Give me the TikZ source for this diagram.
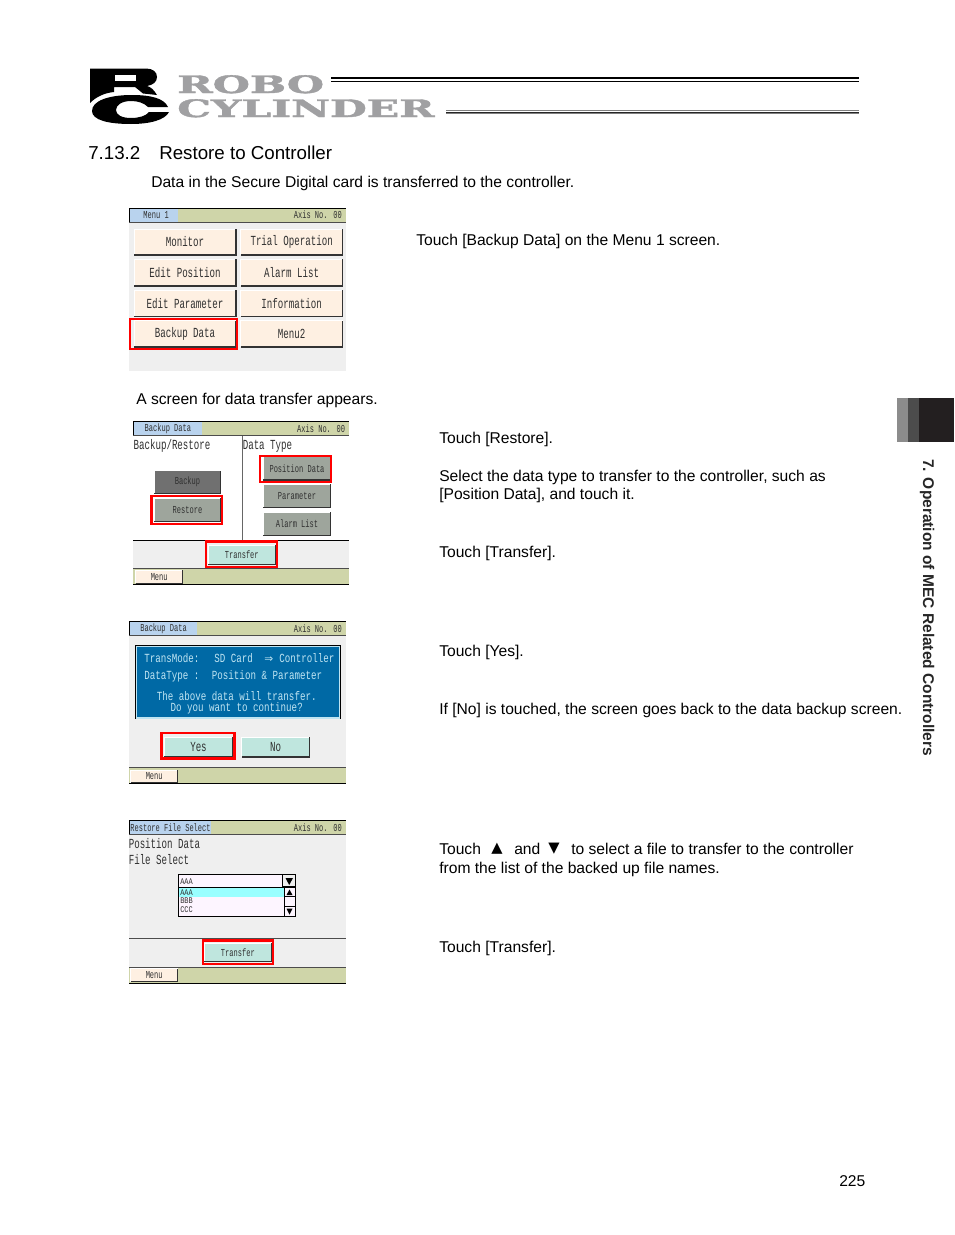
\documentclass[tikz,border=0pt]{standalone}
\usepackage{graphicx}
\usepackage{fontspec}
\setmainfont{Liberation Sans}
\newfontfamily\scrfont[FakeStretch=0.66]{Liberation Mono}
\newfontfamily\msgfont[FakeStretch=0.74]{Liberation Mono}
\newfontfamily\listfont[FakeStretch=0.8]{Liberation Mono}
\newfontfamily\symfont{DejaVu Sans}
\newfontfamily\logofont[FakeBold=1.6]{DejaVu Serif Bold}
\definecolor{olive}{HTML}{CFD5A9}
\definecolor{tabblue}{HTML}{B9D3EE}
\definecolor{scrbg}{HTML}{EFEFEF}
\definecolor{peach}{HTML}{FEF0E2}
\definecolor{btngray}{HTML}{9EA59C}
\definecolor{btndark}{HTML}{707070}
\definecolor{mint}{HTML}{BFE6DE}
\definecolor{msgblue}{HTML}{0069A5}
\definecolor{msgtext}{HTML}{BFE4F2}
\definecolor{listbg}{HTML}{FDF5FF}
\definecolor{listsel}{HTML}{99FFFF}
\definecolor{logogray}{HTML}{A0A0A2}
\definecolor{tabink}{HTML}{231F20}
\definecolor{scrink}{HTML}{303030}
\tikzset{
  body/.style={anchor=base west,inner sep=0pt,font=\fontsize{11.72pt}{14pt}\selectfont,text=black},
  big/.style={inner sep=0pt,font=\scrfont\fontsize{10.4pt}{11pt}\selectfont,text=scrink},
  small/.style={inner sep=0pt,font=\scrfont\fontsize{8pt}{9pt}\selectfont,text=scrink},
  msg/.style={inner sep=0pt,font=\msgfont\fontsize{9.3pt}{10pt}\selectfont,text=msgtext},
  listitem/.style={inner sep=0pt,anchor=base west,font=\listfont\fontsize{6.5pt}{7pt}\selectfont,text=scrink},
  redframe/.style={draw=red,line width=1.6pt},
  logotext/.style={anchor=base west,inner sep=0pt,text=logogray,font=\logofont\fontsize{18pt}{18pt}\selectfont},
}
% name x1 y1 x2 y2 fill textstyle text
\newcommand{\btn}[8]{%
  \fill[#6] (#2,#3) rectangle (#4,#5);
  \draw[white,line width=0.75pt] (#2,#5) -- (#2,#3) -- (#4,#3);
  \draw[black!80,line width=0.9pt] (#2,#5) -- (#4,#5) -- (#4,#3);
  \node[#7] (#1) at ({(#2+#4)/2},{(#3+#5)/2}) {#8};
}
% name x1 x2 bluex y1 y2 title
\newcommand{\titlebar}[7]{%
  \fill[olive] (#2,#5) rectangle (#3,#6);
  \fill[tabblue] (#2,#5) rectangle (#4,#6);
  \draw[black,line width=0.75pt] (#2,#6) -- (#2,#5) -- (#3,#5);
  \draw[black!70,line width=0.75pt] (#2,#6) -- (#3,#6);
  \node[small,anchor=west] (#1t) at ({#2+(#4-#2-4.2*\titlelen)/2},{(#5+#6)/2}) {#7};
  \node[small,anchor=east] (#1a) at (#3-4,{(#5+#6)/2}) {Axis No. 00};
}
\begin{document}
\begin{tikzpicture}[x=0.75pt,y=-0.75pt]
\useasboundingbox (0,0) rectangle (954,1235);
\fill[white] (0,0) rectangle (954,1235);
% logo
\fill[black] (90,68.5) -- (146,68.5) .. controls (153,68.5) and (157,72) .. (157,77)
  .. controls (157,82) and (153,85) .. (147,86) .. controls (151,87) and (154,90) .. (157,95)
  -- (143,93.5) -- (135,87) -- (114,87) -- (114,92) .. controls (104,93) and (96,97) .. (90,103) -- cycle;
\fill[white] (115,75) rectangle (136,81);
\fill[black] (92,111) .. controls (92,101) and (108,95) .. (132,95)
  .. controls (150,95) and (164,98) .. (168,107) -- (148,107)
  .. controls (144,103) and (138,101) .. (131,101)
  .. controls (122,101) and (116,105) .. (116,110)
  .. controls (116,115) and (122,118) .. (131,118)
  .. controls (139,118) and (146,116) .. (149,112) -- (169,112)
  .. controls (165,120) and (150,124) .. (131,124)
  .. controls (108,124) and (92,120) .. (92,111) -- cycle;
\node[logotext] (logorobo) at (177,93) {\scalebox{1.78}[1]{ROBO}};
\node[logotext] (logocyl) at (177,117) {\scalebox{1.77}[1]{CYLINDER}};
\fill[black] (331,77.3) rectangle (859,79.3);
\fill[black] (331,80.5) rectangle (859,81.7);
\fill[black!50] (446,110.2) rectangle (859,111.2);
\fill[black!85] (446,112) rectangle (859,113.2);
\fill[black!50] (446,113.2) rectangle (859,114.4);
% headings
\node[body,font=\fontsize{14.05pt}{16pt}\selectfont] (sec) at (88,159) {7.13.2};
\node[body,font=\fontsize{14.05pt}{16pt}\selectfont] (sectitle) at (159,159) {Restore to Controller};
\node[body] (intro) at (151,187) {Data in the Secure Digital card is transferred to the controller.};
\node[body] (t1) at (416,245) {Touch [Backup Data] on the Menu 1 screen.};
\node[body] (t2) at (136,404) {A screen for data transfer appears.};
\node[body] (t3) at (439,443) {Touch [Restore].};
\node[body] (t4) at (439,481) {Select the data type to transfer to the controller, such as};
\node[body] (t5) at (439,499) {[Position Data], and touch it.};
\node[body] (t6) at (439,557) {Touch [Transfer].};
\node[body] (t7) at (439,656) {Touch [Yes].};
\node[body] (t8) at (439,714) {If [No] is touched, the screen goes back to the data backup screen.};
\node[body] (t9) at (439,854) {Touch};
\node[body,font=\symfont\fontsize{11pt}{12pt}\selectfont] (t9a) at (491,852) {▲};
\node[body] (t9b) at (514,854) {and};
\node[body,font=\symfont\fontsize{11pt}{12pt}\selectfont] (t9c) at (548,852) {▼};
\node[body] (t9d) at (571,854) {to select a file to transfer to the controller};
\node[body] (t10) at (439,873) {from the list of the backed up file names.};
\node[body] (t11) at (439,952) {Touch [Transfer].};
\node[body] (pageno) at (839,1186) {225};
% side tab
\fill[black!45] (897,398) rectangle (908,442);
\fill[black!70] (908,398) rectangle (919,442);
\fill[tabink] (919,398) rectangle (954,442);
\node[anchor=base west,inner sep=0pt,rotate=-90,text=black!85,font=\bfseries\fontsize{11.63pt}{13pt}\selectfont] (side) at (923,459) {7. Operation of MEC Related Controllers};
% screen 1
\fill[scrbg] (129.3,208) rectangle (346,371);
\def\titlelen{5}
\titlebar{sa}{129.3}{346}{178}{208}{222}{Menu 1}
\btn{a1}{134}{229}{236}{255}{peach}{big}{Monitor}
\btn{a2}{240.7}{229}{342.7}{255}{peach}{big}{Trial Operation}
\btn{a3}{134}{259.3}{236}{286}{peach}{big}{Edit Position}
\btn{a4}{240.7}{259.3}{342.7}{286}{peach}{big}{Alarm List}
\btn{a5}{134}{290}{236}{316.7}{peach}{big}{Edit Parameter}
\btn{a6}{240.7}{290}{342.7}{316.7}{peach}{big}{Information}
\btn{a7}{134}{320.7}{236}{347}{peach}{big}{Backup Data}
\btn{a8}{240.7}{320.7}{342.7}{347}{peach}{big}{Menu2}
\draw[redframe] (130,319) rectangle (236.8,348.6);
% screen 2
\fill[white] (133.3,436) rectangle (349.3,540);
\fill[scrbg] (133.3,540) rectangle (349.3,568.3);
\fill[olive] (133.3,568.3) rectangle (349.3,584.3);
\draw[black,line width=0.75pt] (133.3,584.3) -- (349.3,584.3);
\draw[black!70,line width=0.75pt] (133.3,568.3) -- (349.3,568.3);
\draw[black,line width=0.75pt] (133.3,540.3) -- (349.3,540.3);
\draw[black!60,line width=0.75pt] (242.3,436) -- (242.3,540);
\def\titlelen{11}
\titlebar{sb}{133.3}{349.3}{201.7}{421.7}{435.7}{Backup Data}
\node[big,anchor=base west] (bh1) at (133.3,449.5) {Backup/Restore};
\node[big,anchor=base west] (bh2) at (242.5,449.5) {Data Type};
\btn{b1}{154.3}{470.7}{220.7}{493.3}{btndark}{small}{Backup}
\btn{b2}{154.3}{498.3}{220.7}{521.7}{btngray}{small}{Restore}
\btn{b3}{263.3}{456.7}{330.7}{480}{btngray}{small}{Position Data}
\btn{b4}{263.3}{484.3}{330.7}{507.7}{btngray}{small}{Parameter}
\btn{b5}{263.3}{512.3}{330.7}{535.7}{btngray}{small}{Alarm List}
\btn{b6}{208.3}{545}{275.3}{564.3}{mint}{small}{Transfer}
\btn{b7}{135.7}{570}{182.7}{583.3}{peach}{small}{Menu}
\draw[redframe] (151.5,496) rectangle (221.6,523.6);
\draw[redframe] (260,455.8) rectangle (331,482);
\draw[redframe] (206.4,541.5) rectangle (276.6,567);
% screen 3
\fill[scrbg] (129,636) rectangle (346,767.7);
\fill[olive] (129,767.7) rectangle (346,783.3);
\draw[black,line width=0.75pt] (129,783.3) -- (346,783.3);
\draw[black!70,line width=0.75pt] (129,767.7) -- (346,767.7);
\def\titlelen{11}
\titlebar{sc}{129}{346}{197.3}{621.7}{635.7}{Backup Data}
\fill[black] (135,645) rectangle (340.7,719.3);
\fill[msgtext] (135.8,645.8) rectangle (339.9,718.5);
\fill[msgblue] (137,647) rectangle (338.7,717.3);
\node[msg,anchor=base west] (m1) at (144,662.5) {TransMode:};
\node[msg,anchor=base west] (m2) at (214,662.5) {SD Card};
\node[msg,anchor=base west,font=\symfont\fontsize{8pt}{9pt}\selectfont] (m3) at (264,662) {⇒};
\node[msg,anchor=base west] (m3b) at (279,662.5) {Controller};
\node[msg,anchor=base west] (m4) at (144,679) {DataType :};
\node[msg,anchor=base west] (m5) at (211.7,679) {Position \& Parameter};
\node[msg,anchor=base] (m6) at (236.7,700.5) {The above data will transfer.};
\node[msg,anchor=base] (m7) at (236.7,711.5) {Do you want to continue?};
\btn{c1}{164.3}{737}{232.7}{757}{mint}{big}{Yes}
\btn{c2}{241.7}{737}{309.3}{757}{mint}{big}{No}
\btn{c3}{130.7}{770}{177.7}{782.7}{peach}{small}{Menu}
\draw[redframe] (161.5,733.2) rectangle (234.5,758.5);
% screen 4
\fill[scrbg] (129,834.3) rectangle (346,967.7);
\fill[olive] (129,967.7) rectangle (346,983.3);
\draw[black,line width=0.75pt] (129,983.3) -- (346,983.3);
\draw[black!70,line width=0.75pt] (129,967.7) -- (346,967.7);
\draw[black!70,line width=0.75pt] (129,938.3) -- (346,938.3);
\def\titlelen{19}
\titlebar{sd}{129}{346}{211}{820.7}{834.3}{Restore File Select}
\node[big,anchor=base west] (d1) at (128.5,848.5) {Position Data};
\node[big,anchor=base west] (d2) at (128.5,864) {File Select};
\fill[listbg] (178.3,874.3) rectangle (295.7,916.7);
\fill[listsel] (178.3,887.7) rectangle (284.3,896.7);
\draw[black,line width=0.75pt] (178.3,887.3) -- (295.7,887.3);
\draw[black,line width=0.9pt] (178.3,874.3) rectangle (295.7,916.7);
\node[listitem] (l0) at (180,884) {AAA};
\node[listitem] (l1) at (180,895) {AAA};
\node[listitem] (l2) at (180,903.5) {BBB};
\node[listitem] (l3) at (180,912) {CCC};
\fill[scrbg] (282.7,874.3) rectangle (295.7,887.3);
\draw[black,line width=1.1pt] (282.7,874.6) rectangle (295.4,887);
\fill[black] (285.5,878) -- (293,878) -- (289.2,885) -- cycle;
\draw[black,line width=0.6pt] (284.3,887.7) -- (284.3,916.7);
\draw[black,line width=0.6pt] (284.3,896.7) -- (295.7,896.7);
\draw[black,line width=0.6pt] (284.3,906.7) -- (295.7,906.7);
\fill[black] (286.5,895) -- (292.5,895) -- (289.5,889.5) -- cycle;
\fill[black] (286.5,908.5) -- (292.5,908.5) -- (289.5,914.5) -- cycle;
\btn{d3}{204}{943.3}{271.7}{961.7}{mint}{small}{Transfer}
\btn{d4}{130.7}{968.5}{177.7}{981.7}{peach}{small}{Menu}
\draw[redframe] (202.6,940.5) rectangle (273.4,963.6);
\end{tikzpicture}
\end{document}
